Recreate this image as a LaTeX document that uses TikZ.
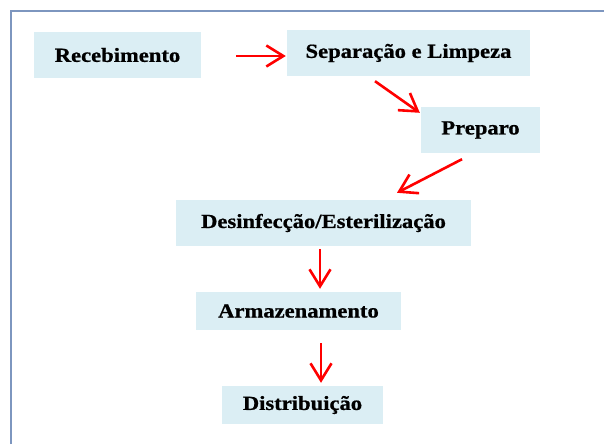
\documentclass[tikz,border=0pt]{standalone}
\usepackage{fontspec}
\setmainfont{Liberation Serif}[FakeStretch=1.13,FakeBold=0.8]
\usetikzlibrary{arrows.meta,calc}
\definecolor{boxfill}{HTML}{DBEEF4}
\definecolor{framecol}{HTML}{7D96BF}
\begin{document}
\begin{tikzpicture}[x=1pt,y=-1pt,
  stepbox/.style={fill=boxfill,draw=none,inner sep=0pt,
    font=\bfseries\fontsize{20}{24}\selectfont,text=black},
  arr/.style={draw=red,line width=2.6pt,
    -{Straight Barb[length=17pt,width=21pt,line width=2.6pt]}}]
\useasboundingbox (0,0) rectangle (604,444);
\draw[framecol,line width=2pt] (10.5,444) -- (10.5,11) -- (604,11);
\node[stepbox,minimum width=167pt,minimum height=46pt] (rec) at (117.5,55) {Recebimento};
\node[stepbox,minimum width=243pt,minimum height=46pt] (sep) at (408.5,53) {Separação e Limpeza};
\node[stepbox,minimum width=119pt,minimum height=46pt] (prep) at (480.5,130) {Preparo};
\node[stepbox,minimum width=295pt,minimum height=46pt] (des) at (323.5,223) {Desinfecção/Esterilização};
\node[stepbox,minimum width=205pt,minimum height=38pt] (arm) at (298.5,311) {Armazenamento};
\node[stepbox,minimum width=161pt,minimum height=38pt] (dist) at (302.5,405) {Distribuição};
\draw[arr] ($(rec.east)+(35,1)$) -- ($(sep.west)+(-1,3)$);
\draw[arr] ($(sep.south)+(-33.5,5)$) -- ($(prep.north west)+(-1,6)$);
\draw[arr] ($(prep.south)+(-18.5,6)$) -- ($(des.north)+(73.5,-7)$);
\draw[arr] ($(des.south)+(-3.5,3)$) -- ($(arm.north)+(21.5,-3)$);
\draw[arr] ($(arm.south)+(22.5,13)$) -- ($(dist.north)+(18.5,-3)$);
\end{tikzpicture}
\end{document}
